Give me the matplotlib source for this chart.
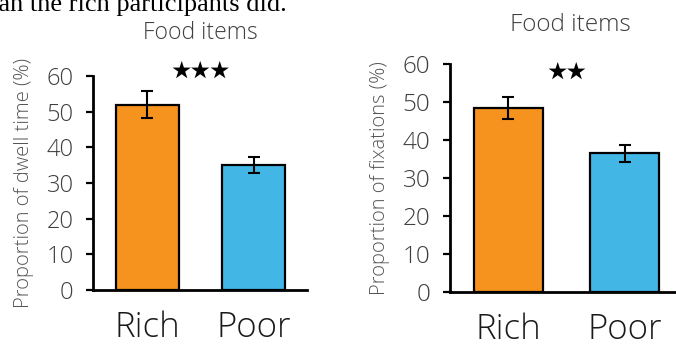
import matplotlib
matplotlib.use("Agg")
import matplotlib.pyplot as plt

# Food items: share of dwell time and fixations by group
groups = ["Rich", "Poor"]
dwell_mean = [52.0, 35.0]
dwell_err = [3.7, 2.3]
fix_mean = [48.4, 36.5]
fix_err = [3.0, 2.3]
yticks = [0, 10, 20, 30, 40, 50, 60]

colors = ["#F6921E", "#42B7E5"]
GREY = "#3f3f3f"
FONT = "Open Sans"
WEIGHT = "light"

W, H = 676, 347
fig = plt.figure(figsize=(W / 100, H / 100), dpi=100)


def px_rect(x0, x1, ytop, ybot):
    return [x0 / W, 1 - ybot / H, (x1 - x0) / W, (ybot - ytop) / H]


def panel(rect, means, errs, ylabel, stars, xlim, star_y, tick_fs, xt_fs, yl_fs):
    ax = fig.add_axes(rect)
    x = [0, 1]
    ax.bar(x, means, width=0.59, color=colors, edgecolor="black", linewidth=1.6, zorder=2)
    ax.errorbar(x, means, yerr=errs, fmt="none", ecolor="black", elinewidth=1.5,
                capsize=4.5, capthick=1.5, zorder=3)
    ax.set_ylim(0, 60)
    ax.set_xlim(*xlim)
    ax.set_yticks(yticks)
    ax.set_yticklabels([str(t) for t in yticks], fontsize=tick_fs, color=GREY,
                       family=FONT, fontweight=WEIGHT)
    ax.set_xticks(x)
    ax.set_xticklabels(groups, fontsize=xt_fs, color="#1a1a1a", family=FONT,
                       fontweight=WEIGHT)
    ax.tick_params(axis="y", direction="out", length=5, width=1.6, pad=9, colors="black",
                   labelcolor=GREY)
    ax.tick_params(axis="x", length=0, pad=15)
    for s in ("top", "right"):
        ax.spines[s].set_visible(False)
    for s in ("left", "bottom"):
        ax.spines[s].set_linewidth(2)
    ax.set_ylabel(ylabel, fontsize=yl_fs, color="#555555", family=FONT,
                  fontweight=WEIGHT, labelpad=9)
    ax.text(0.5, star_y, stars, ha="center", va="center", fontsize=14,
            family="Noto Sans CJK JP", color="black", clip_on=False)
    return ax


ax1 = panel(px_rect(93, 307, 76, 290), dwell_mean, dwell_err,
            "Proportion of dwell time (%)", "★★★", (-0.51, 1.50), 61.1, 17, 25, 14.5)
ax2 = panel(px_rect(450, 676, 64, 292), fix_mean, fix_err,
            "Proportion of fixations (%)", "★★", (-0.50, 1.44), 57.6, 17.5, 25, 14.5)

fig.text(200 / W, 1 - 33 / H, "Food items", ha="center", va="center",
         fontsize=16.5, color=GREY, family=FONT, fontweight=WEIGHT)
fig.text(570 / W, 1 - 25 / H, "Food items", ha="center", va="center",
         fontsize=17.5, color=GREY, family=FONT, fontweight=WEIGHT)

# trailing line of the surrounding paragraph
fig.text(287 / W, 1 - 11 / H, "than the rich participants did.", ha="right",
         va="baseline", fontsize=19, family="Liberation Serif", color="black")

fig.savefig("out.png", dpi=100)
